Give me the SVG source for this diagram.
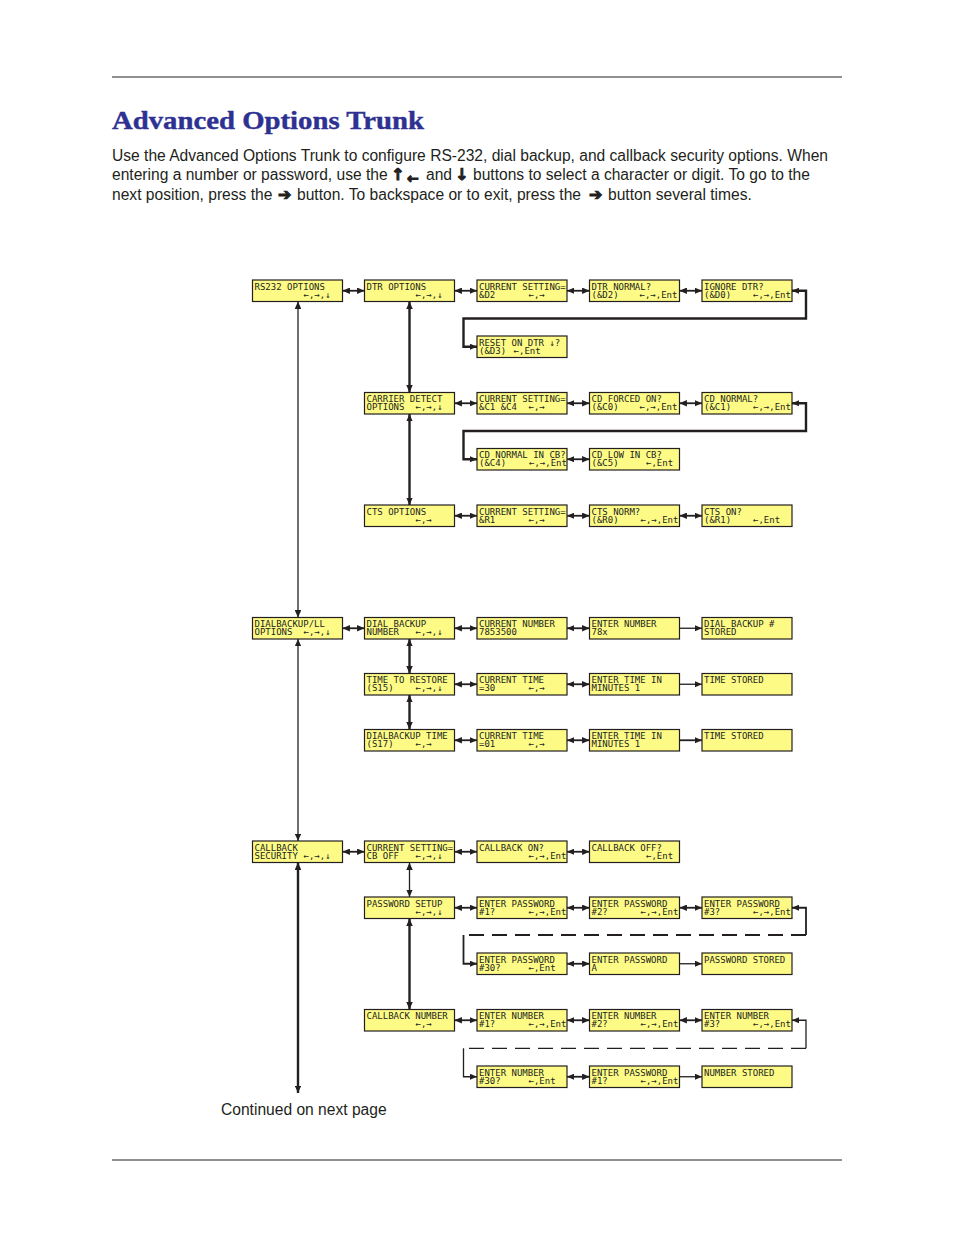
<svg xmlns="http://www.w3.org/2000/svg" width="954" height="1235" viewBox="0 0 954 1235">
<style>
.b{fill:#fdfb86;stroke:#231f20;stroke-width:1.2}
.t{font-family:"DejaVu Sans Mono",monospace;font-size:9px;fill:#231f20}
.body{font-family:"Liberation Sans",Arial,sans-serif;font-size:15.6px;fill:#231f20}
.arr{font-family:"DejaVu Sans",sans-serif;font-weight:bold;font-size:16px;fill:#231f20;stroke:#231f20;stroke-width:1}
.c{fill:none;stroke:#231f20;stroke-width:1.8}
.thin{stroke-width:1.3}
.thick{stroke-width:2.4}
.d{marker-start:url(#a);marker-end:url(#a)}
.s{marker-end:url(#a)}
.ds{marker-start:url(#a)}
.dash{stroke-dasharray:15 8}
</style>
<defs>
<marker id="a" viewBox="0 0 8 7" refX="8" refY="3.5" markerWidth="7.5" markerHeight="6.5" markerUnits="userSpaceOnUse" orient="auto-start-reverse"><path d="M0,0L8,3.5L0,7z" fill="#231f20"/></marker>
</defs>
<rect width="954" height="1235" fill="#ffffff"/>
<line x1="112" y1="77" x2="842" y2="77" stroke="#231f20" stroke-width="1"/>
<line x1="112" y1="1160" x2="842" y2="1160" stroke="#231f20" stroke-width="1"/>
<text x="112" y="129" font-family="Liberation Serif,Times New Roman,serif" font-weight="bold" font-size="25" fill="#2e3192" stroke="#2e3192" stroke-width="0.4" textLength="312" lengthAdjust="spacingAndGlyphs">Advanced Options Trunk</text>
<text class="body" x="112" y="160.5">Use the Advanced Options Trunk to configure RS-232, dial backup, and callback security options. When</text>
<text class="body" x="112" y="180">entering a number or password, use the</text>
<text class="arr" x="391" y="180">↑<tspan x="407" y="182.5" font-size="14">←</tspan></text>
<text class="body" x="426" y="180">and</text>
<text class="arr" x="455" y="180">↓</text>
<text class="body" x="473" y="180">buttons to select a character or digit. To go to the</text>
<text class="body" x="112" y="199.5">next position, press the</text>
<text class="arr" x="278" y="199.5">➔</text>
<text class="body" x="297" y="199.5">button. To backspace or to exit, press the</text>
<text class="arr" x="589" y="199.5">➔</text>
<text class="body" x="608" y="199.5">button several times.</text>
<text class="body" x="221" y="1115">Continued on next page</text>

<g id="connectors">
<path class="c d" d="M342.5,290.75H364.5"/>
<path class="c d" d="M454.5,290.75H477"/>
<path class="c d" d="M567,290.75H589.5"/>
<path class="c d" d="M679.5,290.75H702"/>
<path class="c thick d" d="M792,290.75H806V318.5H463.5V346.75H477"/>
<path class="c d" d="M454.5,403.25H477"/>
<path class="c d" d="M567,403.25H589.5"/>
<path class="c d" d="M679.5,403.25H702"/>
<path class="c thick d" d="M792,403.25H806V431H463.5V459.25H477"/>
<path class="c d" d="M567,459.25H589.5"/>
<path class="c d" d="M454.5,515.75H477"/>
<path class="c d" d="M567,515.75H589.5"/>
<path class="c d" d="M679.5,515.75H702"/>
<path class="c d" d="M342.5,628.25H364.5"/>
<path class="c d" d="M454.5,628.25H477"/>
<path class="c d" d="M567,628.25H589.5"/>
<path class="c thin s" d="M679.5,628.25H702"/>
<path class="c d" d="M454.5,684.25H477"/>
<path class="c d" d="M567,684.25H589.5"/>
<path class="c thin s" d="M679.5,684.25H702"/>
<path class="c d" d="M454.5,740.25H477"/>
<path class="c d" d="M567,740.25H589.5"/>
<path class="c s" d="M679.5,740.25H702"/>
<path class="c d" d="M342.5,851.75H364.5"/>
<path class="c d" d="M454.5,851.75H477"/>
<path class="c d" d="M567,851.75H589.5"/>
<path class="c d" d="M454.5,907.75H477"/>
<path class="c d" d="M567,907.75H589.5"/>
<path class="c d" d="M679.5,907.75H702"/>
<path class="c ds" d="M792,907.75H806V935"/>
<path class="c dash" d="M806,935H463.5"/>
<path class="c s" d="M463.5,935V963.75H477"/>
<path class="c d" d="M567,963.75H589.5"/>
<path class="c thin s" d="M679.5,963.75H702"/>
<path class="c d" d="M454.5,1020.25H477"/>
<path class="c d" d="M567,1020.25H589.5"/>
<path class="c d" d="M679.5,1020.25H702"/>
<path class="c thin ds" d="M792,1020.25H806V1048.3"/>
<path class="c thin dash" d="M806,1048.3H463.5"/>
<path class="c thin s" d="M463.5,1048.3V1076.75H477"/>
<path class="c d" d="M567,1076.75H589.5"/>
<path class="c thin s" d="M679.5,1076.75H702"/>
<path class="c thin d" d="M298,301.5V617.5"/>
<path class="c thick d" d="M409.5,301.5V392.5"/>
<path class="c thick d" d="M409.5,414V505"/>
<path class="c thin d" d="M298,639V841"/>
<path class="c thick d" d="M409.5,639V673.5"/>
<path class="c thick d" d="M409.5,695V729.5"/>
<path class="c thick d" d="M298,862.5V1093"/>
<path class="c thin d" d="M409.5,862.5V897"/>
<path class="c thick d" d="M409.5,918.5V1009.5"/>
</g>

<g id="rs232-options" transform="translate(252.5,280)"><rect class="b" width="90" height="21.5"/><text class="t" x="2" y="9.5">RS232 OPTIONS</text><text class="t" x="51" y="17.8">←,→,↓</text></g>
<g id="dtr-options" transform="translate(364.5,280)"><rect class="b" width="90" height="21.5"/><text class="t" x="2" y="9.5">DTR OPTIONS</text><text class="t" x="51" y="17.8">←,→,↓</text></g>
<g id="dtr-current" transform="translate(477,280)"><rect class="b" width="90" height="21.5"/><text class="t" x="2" y="9.5">CURRENT SETTING=</text><text class="t" x="2" y="17.8">&amp;D2</text><text class="t" x="51.5" y="17.8">←,→</text></g>
<g id="dtr-normal" transform="translate(589.5,280)"><rect class="b" width="90" height="21.5"/><text class="t" x="2" y="9.5">DTR NORMAL?</text><text class="t" x="2" y="17.8">(&amp;D2)</text><text class="t" x="50" y="17.8">←,→,Ent</text></g>
<g id="ignore-dtr" transform="translate(702,280)"><rect class="b" width="90" height="21.5"/><text class="t" x="2" y="9.5">IGNORE DTR?</text><text class="t" x="2" y="17.8">(&amp;D0)</text><text class="t" x="51" y="17.8">←,→,Ent</text></g>
<g id="reset-on-dtr" transform="translate(477,336)"><rect class="b" width="90" height="21.5"/><text class="t" x="2" y="9.5">RESET ON DTR ↓?</text><text class="t" x="2" y="17.8">(&amp;D3)</text><text class="t" x="36.6" y="17.8">←,Ent</text></g>

<g id="carrier-detect" transform="translate(364.5,392.5)"><rect class="b" width="90" height="21.5"/><text class="t" x="2" y="9.5">CARRIER DETECT</text><text class="t" x="2" y="17.8">OPTIONS</text><text class="t" x="51" y="17.8">←,→,↓</text></g>
<g id="cd-current" transform="translate(477,392.5)"><rect class="b" width="90" height="21.5"/><text class="t" x="2" y="9.5">CURRENT SETTING=</text><text class="t" x="2" y="17.8">&amp;C1 &amp;C4</text><text class="t" x="51.5" y="17.8">←,→</text></g>
<g id="cd-forced-on" transform="translate(589.5,392.5)"><rect class="b" width="90" height="21.5"/><text class="t" x="2" y="9.5">CD FORCED ON?</text><text class="t" x="2" y="17.8">(&amp;C0)</text><text class="t" x="50" y="17.8">←,→,Ent</text></g>
<g id="cd-normal" transform="translate(702,392.5)"><rect class="b" width="90" height="21.5"/><text class="t" x="2" y="9.5">CD NORMAL?</text><text class="t" x="2" y="17.8">(&amp;C1)</text><text class="t" x="51" y="17.8">←,→,Ent</text></g>
<g id="cd-normal-cb" transform="translate(477,448.5)"><rect class="b" width="90" height="21.5"/><text class="t" x="2" y="9.5">CD NORMAL IN CB?</text><text class="t" x="2" y="17.8">(&amp;C4)</text><text class="t" x="52" y="17.8">←,→,Ent</text></g>
<g id="cd-low-cb" transform="translate(589.5,448.5)"><rect class="b" width="90" height="21.5"/><text class="t" x="2" y="9.5">CD LOW IN CB?</text><text class="t" x="2" y="17.8">(&amp;C5)</text><text class="t" x="56.5" y="17.8">←,Ent</text></g>

<g id="cts-options" transform="translate(364.5,505)"><rect class="b" width="90" height="21.5"/><text class="t" x="2" y="9.5">CTS OPTIONS</text><text class="t" x="51" y="17.8">←,→</text></g>
<g id="cts-current" transform="translate(477,505)"><rect class="b" width="90" height="21.5"/><text class="t" x="2" y="9.5">CURRENT SETTING=</text><text class="t" x="2" y="17.8">&amp;R1</text><text class="t" x="51.5" y="17.8">←,→</text></g>
<g id="cts-norm" transform="translate(589.5,505)"><rect class="b" width="90" height="21.5"/><text class="t" x="2" y="9.5">CTS NORM?</text><text class="t" x="2" y="17.8">(&amp;R0)</text><text class="t" x="51" y="17.8">←,→,Ent</text></g>
<g id="cts-on" transform="translate(702,505)"><rect class="b" width="90" height="21.5"/><text class="t" x="2" y="9.5">CTS ON?</text><text class="t" x="2" y="17.8">(&amp;R1)</text><text class="t" x="51" y="17.8">←,Ent</text></g>

<g id="dialbackup-options" transform="translate(252.5,617.5)"><rect class="b" width="90" height="21.5"/><text class="t" x="2" y="9.5">DIALBACKUP/LL</text><text class="t" x="2" y="17.8">OPTIONS</text><text class="t" x="51" y="17.8">←,→,↓</text></g>
<g id="dial-backup-number" transform="translate(364.5,617.5)"><rect class="b" width="90" height="21.5"/><text class="t" x="2" y="9.5">DIAL BACKUP</text><text class="t" x="2" y="17.8">NUMBER</text><text class="t" x="51" y="17.8">←,→,↓</text></g>
<g id="current-number" transform="translate(477,617.5)"><rect class="b" width="90" height="21.5"/><text class="t" x="2" y="9.5">CURRENT NUMBER</text><text class="t" x="2" y="17.8">7853500</text></g>
<g id="enter-number" transform="translate(589.5,617.5)"><rect class="b" width="90" height="21.5"/><text class="t" x="2" y="9.5">ENTER NUMBER</text><text class="t" x="2" y="17.8">78x</text></g>
<g id="dial-backup-stored" transform="translate(702,617.5)"><rect class="b" width="90" height="21.5"/><text class="t" x="2" y="9.5">DIAL BACKUP #</text><text class="t" x="2" y="17.8">STORED</text></g>

<g id="time-to-restore" transform="translate(364.5,673.5)"><rect class="b" width="90" height="21.5"/><text class="t" x="2" y="9.5">TIME TO RESTORE</text><text class="t" x="2" y="17.8">(S15)</text><text class="t" x="51" y="17.8">←,→,↓</text></g>
<g id="current-time-30" transform="translate(477,673.5)"><rect class="b" width="90" height="21.5"/><text class="t" x="2" y="9.5">CURRENT TIME</text><text class="t" x="2" y="17.8">=30</text><text class="t" x="51.5" y="17.8">←,→</text></g>
<g id="enter-time-1" transform="translate(589.5,673.5)"><rect class="b" width="90" height="21.5"/><text class="t" x="2" y="9.5">ENTER TIME IN</text><text class="t" x="2" y="17.8">MINUTES 1</text></g>
<g id="time-stored-1" transform="translate(702,673.5)"><rect class="b" width="90" height="21.5"/><text class="t" x="2" y="9.5">TIME STORED</text></g>

<g id="dialbackup-time" transform="translate(364.5,729.5)"><rect class="b" width="90" height="21.5"/><text class="t" x="2" y="9.5">DIALBACKUP TIME</text><text class="t" x="2" y="17.8">(S17)</text><text class="t" x="51" y="17.8">←,→</text></g>
<g id="current-time-01" transform="translate(477,729.5)"><rect class="b" width="90" height="21.5"/><text class="t" x="2" y="9.5">CURRENT TIME</text><text class="t" x="2" y="17.8">=01</text><text class="t" x="51.5" y="17.8">←,→</text></g>
<g id="enter-time-2" transform="translate(589.5,729.5)"><rect class="b" width="90" height="21.5"/><text class="t" x="2" y="9.5">ENTER TIME IN</text><text class="t" x="2" y="17.8">MINUTES 1</text></g>
<g id="time-stored-2" transform="translate(702,729.5)"><rect class="b" width="90" height="21.5"/><text class="t" x="2" y="9.5">TIME STORED</text></g>

<g id="callback-security" transform="translate(252.5,841)"><rect class="b" width="90" height="21.5"/><text class="t" x="2" y="9.5">CALLBACK</text><text class="t" x="2" y="17.8">SECURITY</text><text class="t" x="51" y="17.8">←,→,↓</text></g>
<g id="cb-current" transform="translate(364.5,841)"><rect class="b" width="90" height="21.5"/><text class="t" x="2" y="9.5">CURRENT SETTING=</text><text class="t" x="2" y="17.8">CB OFF</text><text class="t" x="51" y="17.8">←,→,↓</text></g>
<g id="callback-on" transform="translate(477,841)"><rect class="b" width="90" height="21.5"/><text class="t" x="2" y="9.5">CALLBACK ON?</text><text class="t" x="51.5" y="17.8">←,→,Ent</text></g>
<g id="callback-off" transform="translate(589.5,841)"><rect class="b" width="90" height="21.5"/><text class="t" x="2" y="9.5">CALLBACK OFF?</text><text class="t" x="56.5" y="17.8">←,Ent</text></g>

<g id="password-setup" transform="translate(364.5,897)"><rect class="b" width="90" height="21.5"/><text class="t" x="2" y="9.5">PASSWORD SETUP</text><text class="t" x="51" y="17.8">←,→,↓</text></g>
<g id="enter-password-1" transform="translate(477,897)"><rect class="b" width="90" height="21.5"/><text class="t" x="2" y="9.5">ENTER PASSWORD</text><text class="t" x="2" y="17.8">#1?</text><text class="t" x="51.5" y="17.8">←,→,Ent</text></g>
<g id="enter-password-2" transform="translate(589.5,897)"><rect class="b" width="90" height="21.5"/><text class="t" x="2" y="9.5">ENTER PASSWORD</text><text class="t" x="2" y="17.8">#2?</text><text class="t" x="51" y="17.8">←,→,Ent</text></g>
<g id="enter-password-3" transform="translate(702,897)"><rect class="b" width="90" height="21.5"/><text class="t" x="2" y="9.5">ENTER PASSWORD</text><text class="t" x="2" y="17.8">#3?</text><text class="t" x="51" y="17.8">←,→,Ent</text></g>

<g id="enter-password-30" transform="translate(477,953)"><rect class="b" width="90" height="21.5"/><text class="t" x="2" y="9.5">ENTER PASSWORD</text><text class="t" x="2" y="17.8">#30?</text><text class="t" x="51.5" y="17.8">←,Ent</text></g>
<g id="enter-password-a" transform="translate(589.5,953)"><rect class="b" width="90" height="21.5"/><text class="t" x="2" y="9.5">ENTER PASSWORD</text><text class="t" x="2" y="17.8">A</text></g>
<g id="password-stored" transform="translate(702,953)"><rect class="b" width="90" height="21.5"/><text class="t" x="2" y="9.5">PASSWORD STORED</text></g>

<g id="callback-number" transform="translate(364.5,1009.5)"><rect class="b" width="90" height="21.5"/><text class="t" x="2" y="9.5">CALLBACK NUMBER</text><text class="t" x="51" y="17.8">←,→</text></g>
<g id="enter-number-1" transform="translate(477,1009.5)"><rect class="b" width="90" height="21.5"/><text class="t" x="2" y="9.5">ENTER NUMBER</text><text class="t" x="2" y="17.8">#1?</text><text class="t" x="51.5" y="17.8">←,→,Ent</text></g>
<g id="enter-number-2" transform="translate(589.5,1009.5)"><rect class="b" width="90" height="21.5"/><text class="t" x="2" y="9.5">ENTER NUMBER</text><text class="t" x="2" y="17.8">#2?</text><text class="t" x="51" y="17.8">←,→,Ent</text></g>
<g id="enter-number-3" transform="translate(702,1009.5)"><rect class="b" width="90" height="21.5"/><text class="t" x="2" y="9.5">ENTER NUMBER</text><text class="t" x="2" y="17.8">#3?</text><text class="t" x="51" y="17.8">←,→,Ent</text></g>

<g id="enter-number-30" transform="translate(477,1066)"><rect class="b" width="90" height="21.5"/><text class="t" x="2" y="9.5">ENTER NUMBER</text><text class="t" x="2" y="17.8">#30?</text><text class="t" x="51.5" y="17.8">←,Ent</text></g>
<g id="enter-password-n1" transform="translate(589.5,1066)"><rect class="b" width="90" height="21.5"/><text class="t" x="2" y="9.5">ENTER PASSWORD</text><text class="t" x="2" y="17.8">#1?</text><text class="t" x="51" y="17.8">←,→,Ent</text></g>
<g id="number-stored" transform="translate(702,1066)"><rect class="b" width="90" height="21.5"/><text class="t" x="2" y="9.5">NUMBER STORED</text></g>
</svg>
